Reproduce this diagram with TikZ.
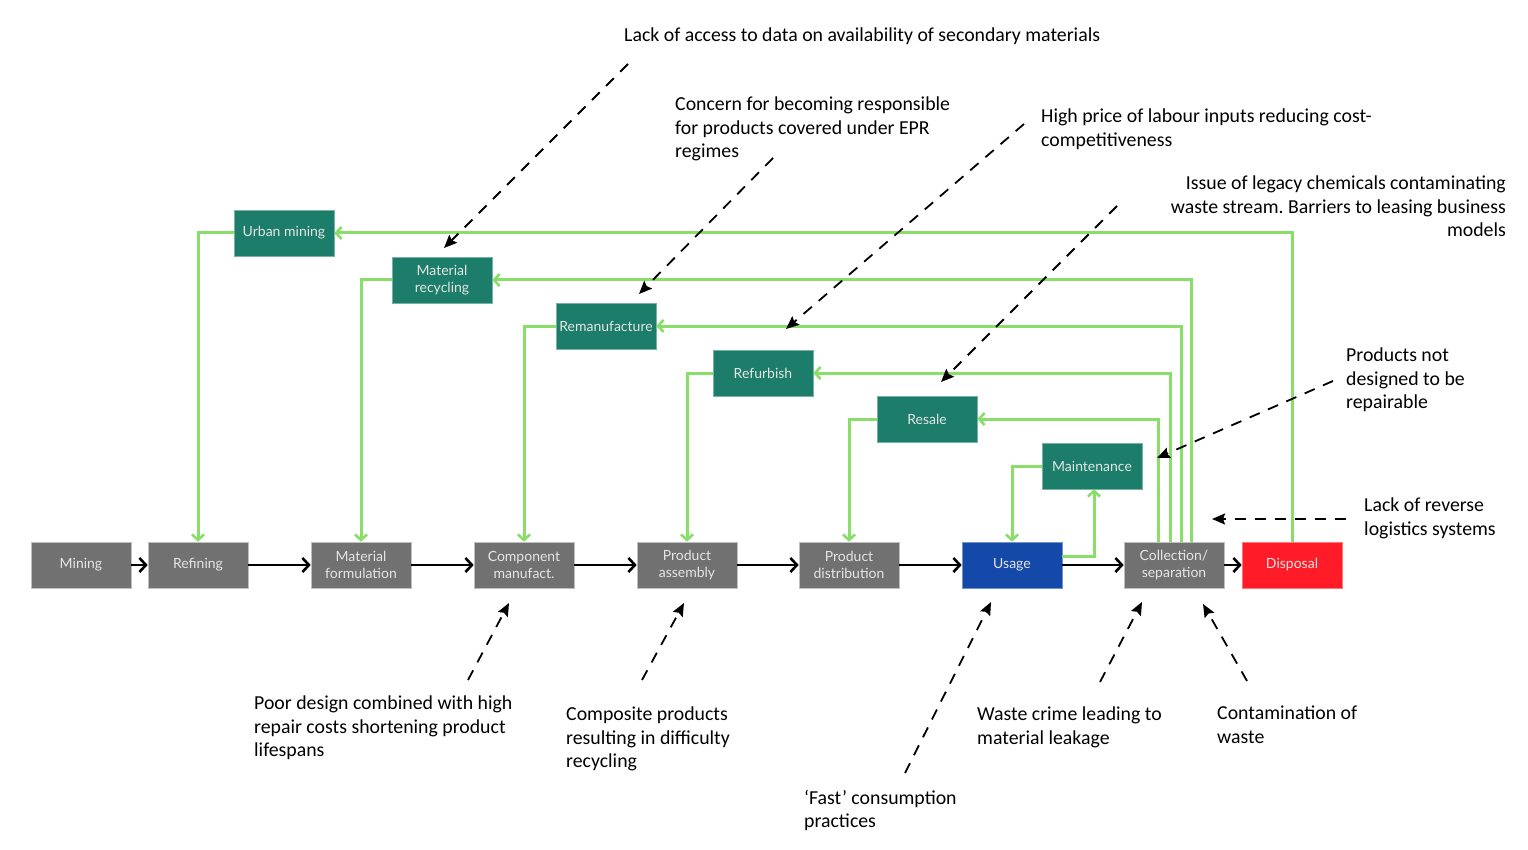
\documentclass[tikz,border=0pt]{standalone}
\usepackage{fontspec}
\setmainfont{Carlito}
\newfontfamily\boxfont{Lato}
\usetikzlibrary{arrows.meta}
\frenchspacing
\definecolor{boxgray}{HTML}{717171}
\definecolor{boxteal}{HTML}{1C7D6A}
\definecolor{boxblue}{HTML}{1449A9}
\definecolor{boxred}{HTML}{FF1B27}
\definecolor{loopgreen}{HTML}{88DE68}
\tikzset{
  stagebox/.style={minimum width=100pt, minimum height=46pt, inner sep=0pt, align=center,
    text=white!90!black, font=\boxfont\fontsize{14}{17.5}\selectfont, draw=white!75!black, line width=0.6pt},
  graybox/.style={stagebox, fill=boxgray},
  tealbox/.style={stagebox, fill=boxteal, draw=boxteal!60!white},
  flow/.style={line width=2.5pt, black, -{Straight Barb[length=6.5pt,width=14pt,line width=2.6pt]}},
  loop/.style={line width=3pt, loopgreen, -{Straight Barb[length=5.5pt,width=12pt,line width=2.6pt]}},
  note/.style={inner sep=0pt, align=left, font=\fontsize{19.8}{23.5}\selectfont, text=black},
  barrier/.style={line width=1.8pt, black, dash pattern=on 11pt off 9pt, -{Stealth[length=13pt,width=11pt,inset=2pt]}},
}
\begin{document}
\begin{tikzpicture}[x=1pt,y=-1pt]
\useasboundingbox[fill=white] (0,0) rectangle (1528,850);
% main chain
\node[graybox] (mining) at (81,565) {Mining};
\node[graybox] (refining) at (198,565) {Refining};
\node[graybox] (matform) at (361,565) {Material\\formulation};
\node[graybox] (comp) at (524,565) {Component\\manufact.};
\node[graybox] (assembly) at (687,565) {Product\\assembly};
\node[graybox] (distrib) at (849,565) {Product\\distribution};
\node[stagebox, fill=boxblue, draw=boxblue!60!white] (usage) at (1012,565) {Usage};
\node[graybox] (collect) at (1174,565) {Collection/\\separation};
\node[stagebox, fill=boxred, draw=boxred!60!white] (disposal) at (1292,565) {Disposal};
% loop boxes
\node[tealbox] (urban) at (284,233) {Urban mining};
\node[tealbox] (matrec) at (442,280) {Material\\recycling};
\node[tealbox] (reman) at (606,326) {Remanufacture};
\node[tealbox] (refurb) at (763,373) {Refurbish};
\node[tealbox] (resale) at (927,419) {Resale};
\node[tealbox] (maint) at (1092,466) {Maintenance};
% flow arrows
\draw[flow] (mining) -- (refining);
\draw[flow] (refining) -- (matform);
\draw[flow] (matform) -- (comp);
\draw[flow] (comp) -- (assembly);
\draw[flow] (assembly) -- (distrib);
\draw[flow] (distrib) -- (usage);
\draw[flow] (usage) -- (collect);
\draw[flow] (collect) -- (disposal);
% green loops
\draw[loop] (urban.west) -| (refining.north);
\draw[loop] (matrec.west) -| (matform.north);
\draw[loop] (reman.west) -| (comp.north);
\draw[loop] (refurb.west) -| (assembly.north);
\draw[loop] (resale.west) -| (distrib.north);
\draw[loop] (maint.west) -| (usage.north);
\draw[loop] ([yshift=9pt]usage.east) -| ([xshift=2pt]maint.south);
\draw[loop] ([xshift=-16pt]collect.north) |- (resale.east);
\draw[loop] ([xshift=-4pt]collect.north) |- (refurb.east);
\draw[loop] ([xshift=7pt]collect.north) |- (reman.east);
\draw[loop] ([xshift=17pt]collect.north) |- (matrec.east);
\draw[loop] (disposal.north) |- (urban.east);
% notes
\node[note, anchor=north west] (n1) at (624,28) {Lack of access to data on availability of secondary materials};
\node[note, anchor=north west] (n2) at (675,97) {Concern for becoming responsible\\for products covered under EPR\\regimes};
\node[note, anchor=north west] (n3) at (1041,109) {High price of labour inputs reducing cost-\\competitiveness};
\node[note, anchor=north east, align=right] (n4) at (1506,176) {Issue of legacy chemicals contaminating\\waste stream. Barriers to leasing business\\models};
\node[note, anchor=north west] (n5) at (1346,348) {Products not\\designed to be\\repairable};
\node[note, anchor=north west] (n6) at (1364,498) {Lack of reverse\\logistics systems};
\node[note, anchor=north west] (n7) at (254,696) {Poor design combined with high\\repair costs shortening product\\lifespans};
\node[note, anchor=north west] (n8) at (566,707) {Composite products\\resulting in difficulty\\recycling};
\node[note, anchor=north west] (n9) at (804,790) {‘Fast’ consumption\\practices};
\node[note, anchor=north west] (n10) at (977,707) {Waste crime leading to\\material leakage};
\node[note, anchor=north west] (n11) at (1217,706) {Contamination of\\waste};
% barrier arrow ends
\coordinate (s1) at (628,64);   \coordinate (e1) at (444,248);
\coordinate (s2) at (773,158);  \coordinate (e2) at (639,294);
\coordinate (s3) at (1024,124); \coordinate (e3) at (786,329);
\coordinate (s4) at (1117,206); \coordinate (e4) at (941,382);
\coordinate (s5) at (1333,381); \coordinate (e5) at (1157,458);
\coordinate (s6) at (1346,519); \coordinate (e6) at (1212,519);
\coordinate (s7) at (468,680);  \coordinate (e7) at (509,603);
\coordinate (s8) at (642,680);  \coordinate (e8) at (684,603);
\coordinate (s9) at (905,773);  \coordinate (e9) at (991,602);
\coordinate (s10) at (1100,682); \coordinate (e10) at (1142,602);
\coordinate (s11) at (1247,681); \coordinate (e11) at (1203,604);
\foreach \i in {1,...,11} {\draw[barrier] (s\i) -- (e\i);}
\end{tikzpicture}
\end{document}
